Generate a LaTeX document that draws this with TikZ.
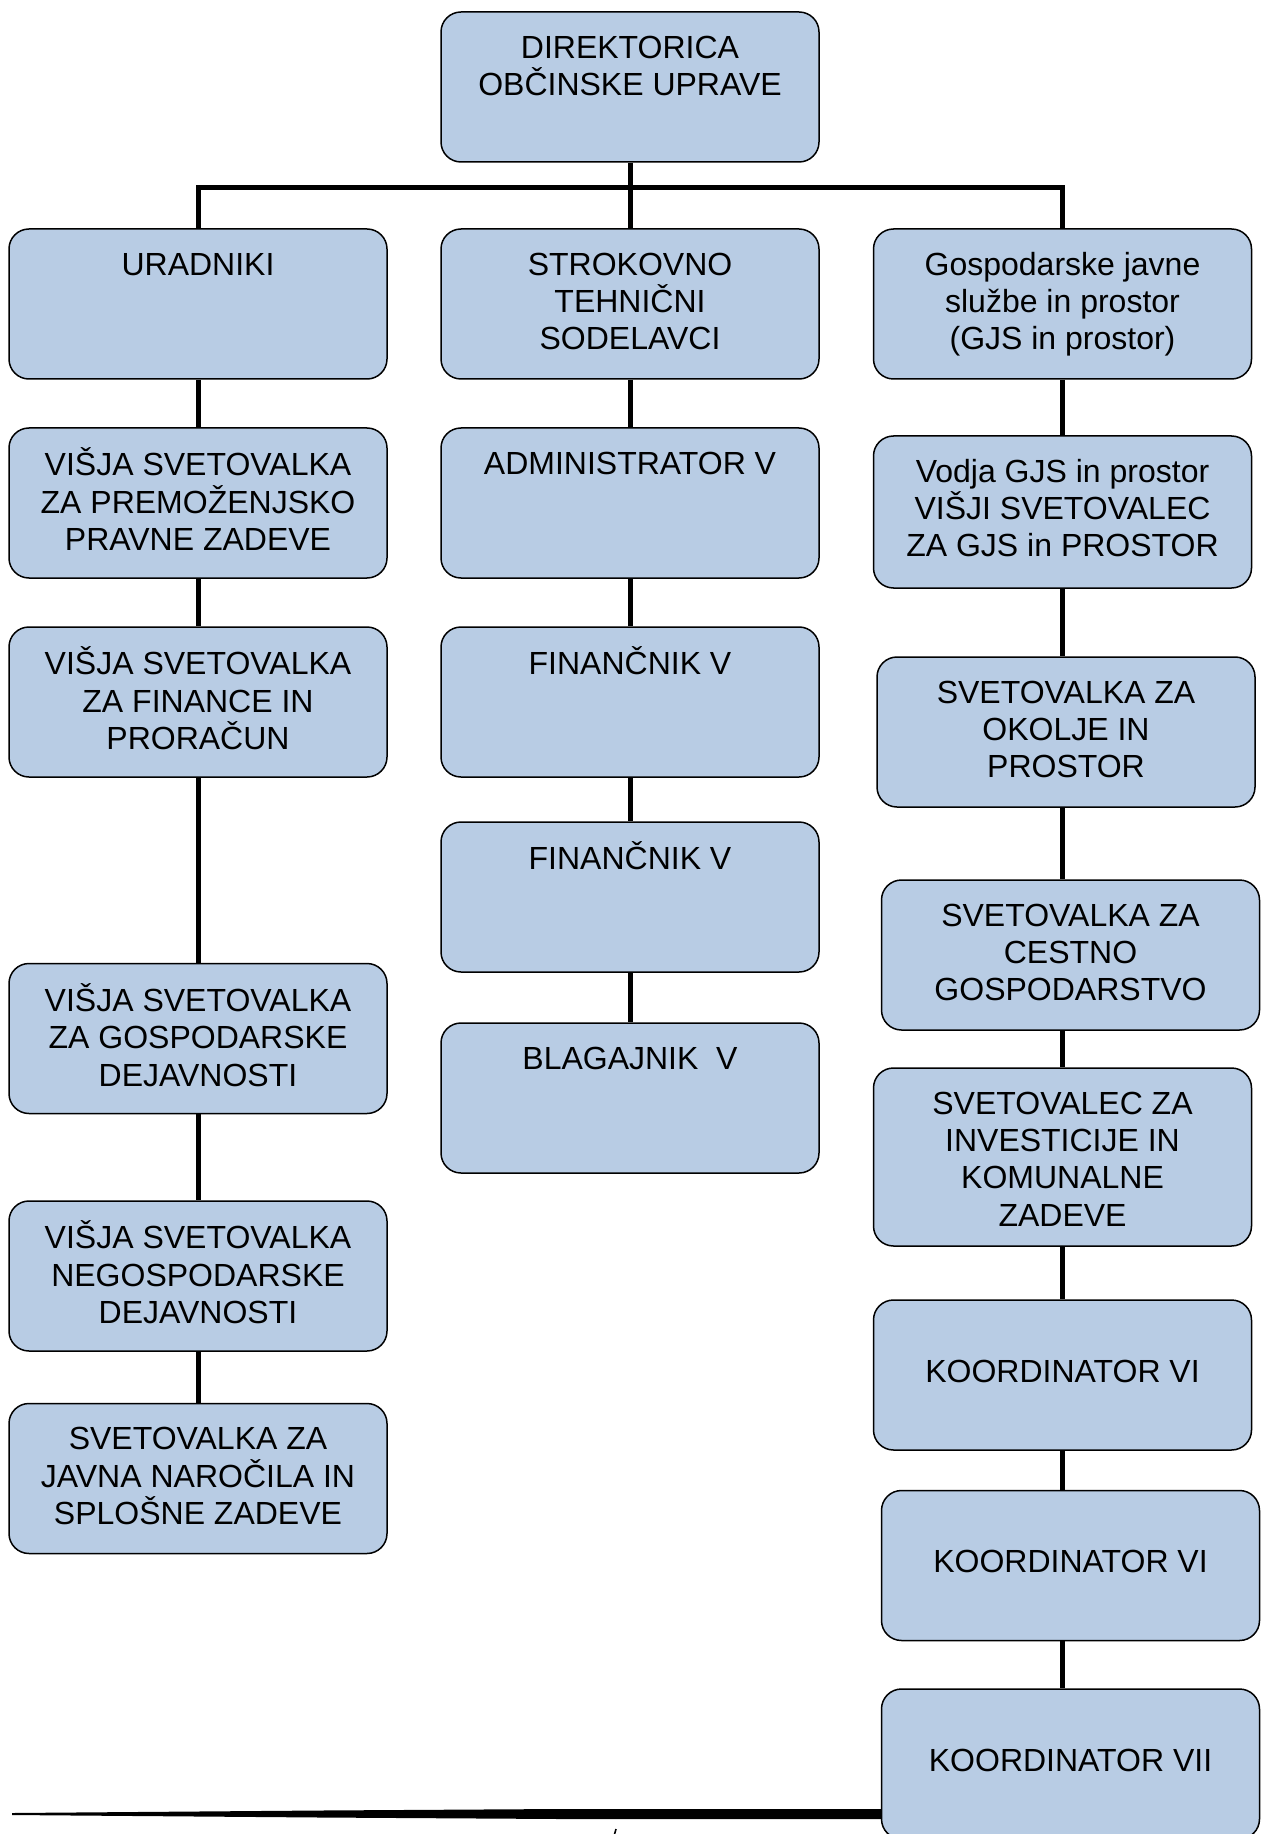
\documentclass[tikz,border=0pt]{standalone}
\usepackage{fontspec}
\setmainfont{Liberation Sans}
\usepackage{xcolor}
\usepackage{tikz}

\definecolor{boxblue}{RGB}{184,204,228}

\tikzset{
	box/.style={draw,line width=0.75pt,fill=boxblue,rounded corners=10pt,inner sep=0pt,
		execute at begin node={\begin{minipage}[c][#1][t]{189pt}\fontsize{16pt}{18.7pt}\selectfont\lineskiplimit=-\maxdimen\centering\vspace*{10pt}\strut},
		execute at end node={\end{minipage}}},
	box/.default=75pt,
	midbox/.style={draw,line width=0.75pt,fill=boxblue,rounded corners=10pt,inner sep=0pt,
		execute at begin node={\begin{minipage}[c][75pt][c]{189pt}\fontsize{16pt}{18.7pt}\selectfont\centering\strut},
		execute at end node={\end{minipage}}},
	link/.style={line width=2.5pt,line join=miter}
}

\begin{document}
\begin{tikzpicture}[x=0.5pt,y=-0.5pt]
	\useasboundingbox (0,0) rectangle (1262,1834);
	\node[box] (dir) at (630,87) {DIREKTORICA\\OBČINSKE UPRAVE};
	% uradniki
	\node[box] (l1) at (198,304) {URADNIKI};
	\node[box] (l2) at (198,503) {VIŠJA SVETOVALKA\\ZA PREMOŽENJSKO\\PRAVNE ZADEVE};
	\node[box] (l3) at (198,702) {VIŠJA SVETOVALKA\\ZA FINANCE IN\\PRORAČUN};
	\node[box] (l4) at (198,1038.5) {VIŠJA SVETOVALKA\\ZA GOSPODARSKE\\DEJAVNOSTI};
	\node[box] (l5) at (198,1276) {VIŠJA SVETOVALKA\\NEGOSPODARSKE\\DEJAVNOSTI};
	\node[box] (l6) at (198,1478.5) {SVETOVALKA ZA\\JAVNA NAROČILA IN\\SPLOŠNE ZADEVE};
	% strokovno tehnicni
	\node[box] (m1) at (630,304) {STROKOVNO\\TEHNIČNI\\SODELAVCI};
	\node[box] (m2) at (630,503) {ADMINISTRATOR V};
	\node[box] (m3) at (630,702) {FINANČNIK V};
	\node[box] (m4) at (630,897) {FINANČNIK V};
	\node[box] (m5) at (630,1098) {BLAGAJNIK\ \ V};
	% gjs in prostor
	\node[box] (r1) at (1062.5,304) {Gospodarske javne\\službe in prostor\\(GJS in prostor)};
	\node[box=76pt] (r2) at (1062.5,512) {Vodja GJS in prostor\\VIŠJI SVETOVALEC\\ZA GJS in PROSTOR};
	\node[box] (r3) at (1066,732) {SVETOVALKA ZA\\OKOLJE IN\\PROSTOR};
	\node[box] (r4) at (1070.5,955) {SVETOVALKA ZA\\CESTNO\\GOSPODARSTVO};
	\node[box=89pt] (r5) at (1062.5,1157) {SVETOVALEC ZA\\INVESTICIJE IN\\KOMUNALNE\\ZADEVE};
	\node[midbox] (r6) at (1062.5,1375) {KOORDINATOR VI};
	\node[midbox] (r7) at (1070.5,1565.5) {KOORDINATOR VI};
	\node[midbox] (r8) at (1070.5,1764) {KOORDINATOR VII};
	\coordinate (busL) at (198,188);
	\coordinate (busR) at (1062.5,188);
	\coordinate (rx) at (1062.5,0);
	\coordinate (tail) at (12,1814);
	\draw[link] (dir.south) -- (dir.south |- busL);
	\draw[link] (l1.north) -- (busL) -- (busR) -- (r1.north);
	\draw[link] (dir.south |- busL) -- (m1.north);
	\draw[link] (l1)--(l2) (l2)--(l3) (l3)--(l4) (l4)--(l5) (l5)--(l6);
	\draw[link] (m1)--(m2) (m2)--(m3) (m3)--(m4) (m4)--(m5);
	\draw[link] (r1)--(r2) (rx |- r2.south)--(rx |- r3.north) (rx |- r3.south)--(rx |- r4.north)
			(rx |- r4.south)--(rx |- r5.north) (rx |- r5.south)--(rx |- r6.north)
			(rx |- r6.south)--(rx |- r7.north) (rx |- r7.south)--(rx |- r8.north);
	% tapered line at the bottom
	\fill (tail) ++(0,-1) -- (320,1810.5) -- (560,1809) -- (r8.west |- 0,1809)
		-- (r8.west |- 0,1819) -- (560,1819) -- (320,1817.5) -- (12,1815) -- cycle;
	\draw[line width=0.8pt] (616,1829) -- (614,1836);
\end{tikzpicture}
\end{document}
